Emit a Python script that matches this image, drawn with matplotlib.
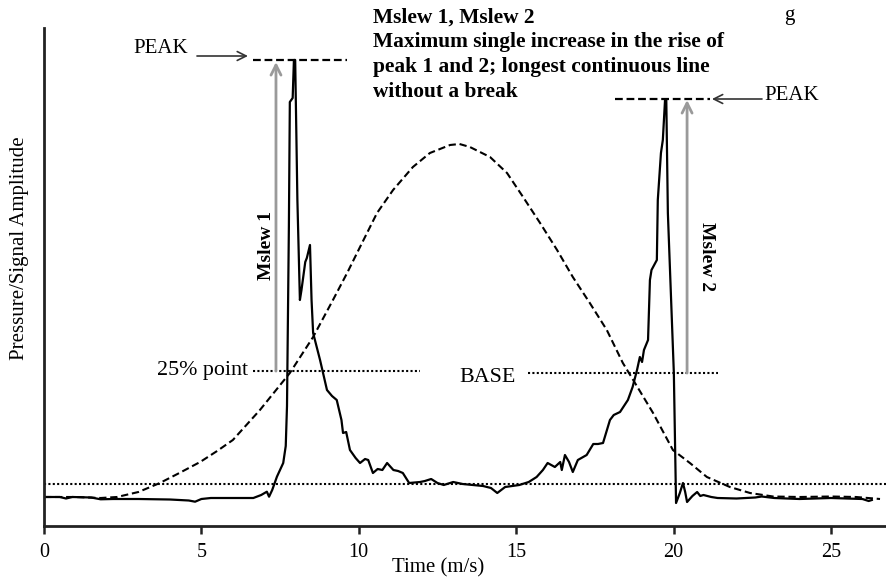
import matplotlib
matplotlib.use("Agg")
import matplotlib.pyplot as plt

plt.rcParams['font.family'] = ['Liberation Serif', 'DejaVu Serif']

# ---- data (time in m/s, amplitude in arbitrary units) ----
signal_t = [0.0, 0.5, 0.7, 0.9, 1.5, 1.8, 2.2, 3.0, 4.0, 4.6, 4.8, 5.0, 5.3, 6.0, 6.65,
            6.9, 7.08, 7.15, 7.25, 7.4, 7.6, 7.68, 7.72, 7.78, 7.81, 7.9, 7.94, 7.98,
            8.05, 8.13, 8.18, 8.3, 8.35, 8.45, 8.5, 8.55, 8.77, 8.99, 9.15, 9.3, 9.45,
            9.5, 9.6, 9.72, 9.9, 10.04, 10.2, 10.3, 10.45, 10.6, 10.75, 10.9, 11.1,
            11.25, 11.4, 11.6, 11.95, 12.1, 12.3, 12.5, 12.7, 13.0, 13.3, 13.95, 14.2,
            14.4, 14.65, 15.1, 15.4, 15.65, 15.85, 16.0, 16.23, 16.4, 16.45, 16.55,
            16.68, 16.8, 16.96, 17.24, 17.45, 17.6, 17.76, 17.98, 18.1, 18.3, 18.55,
            18.7, 18.84, 18.93, 19.0, 19.06, 19.19, 19.25, 19.3, 19.47, 19.5, 19.6,
            19.66, 19.73, 19.77, 19.82, 20.01, 20.08, 20.2, 20.3, 20.37, 20.43, 20.6,
            20.75, 20.85, 20.95, 21.2, 21.4, 22.0, 22.6, 22.8, 23.2, 24.0, 25.0, 25.5,
            26.0, 26.2, 26.3]
signal_a = [29, 29, 27.5, 29, 28.5, 26.7, 27, 27, 26.5, 25.5, 24.3, 27, 28, 28, 28,
            31, 34.3, 29.3, 36, 49.3, 63, 80, 120, 300, 424, 428, 466, 466,
            326, 226, 236, 264, 268, 281, 226, 193, 166, 136, 130, 126, 106,
            93, 94, 76, 68, 63, 67, 66, 53, 57, 56, 63, 56,
            55, 53, 43, 44, 45, 47, 43, 41, 44, 42, 40, 38,
            33, 39, 41, 44, 49, 56, 63, 59, 64, 56, 71,
            64, 54, 66, 71, 82, 82, 83, 106, 111, 114, 126,
            139, 156, 169, 164, 176, 186, 246, 256, 266, 326, 373,
            386, 426, 426, 313, 153, 23, 33, 43, 34, 24, 30,
            34, 30, 31, 29, 28, 27.5, 28.5, 29.5, 28, 27, 28, 27.5,
            27, 25, 26]

envelope_t = [0.0, 1.0, 1.8, 2.32, 3.0, 3.68, 4.3, 4.96, 5.5, 6.0, 6.86, 7.81, 8.55,
              9.18, 9.63, 10.04, 10.58, 11.09, 11.72, 12.26, 12.9, 13.2, 13.53, 14.17,
              14.71, 15.22, 15.76, 16.3, 16.8, 17.34, 17.88, 18.39, 18.68, 19.35,
              19.98, 20.52, 21.06, 21.79, 22.43, 23.16, 24.0, 25.0, 25.8, 26.56]
envelope_a = [29, 29, 28, 29, 34, 43, 53, 64, 75, 86, 116, 153, 189,
              226, 253, 279, 313, 336, 359, 373, 381, 382, 379, 369,
              353, 329, 303, 276, 249, 223, 196, 163, 148, 113,
              76, 63, 49, 39, 33, 29.5, 29, 29.5, 29, 27]

peak1_level = 466
peak2_level = 427
point25_level = 155
base_level = 153
lower_level = 42
peak1_span = [6.64, 9.62]
peak2_span = [18.14, 21.16]
point25_span = [6.64, 11.94]
base_span = [15.37, 21.4]
mslew1_t = 7.37
mslew2_t = 20.43
xticks = [0, 5, 10, 15, 20, 25]

title_lines = ["Mslew 1, Mslew 2",
               "Maximum single increase in the rise of",
               "peak 1 and 2; longest continuous line",
               "without a break"]

# ---- figure ----
W, H = 886, 582
fig = plt.figure(figsize=(W / 100, H / 100), dpi=100)
ax = fig.add_axes([44 / W, 1 - 526 / H, 1 - 44 / W, (526 - 28) / H])
ax.set_xlim(0, 26.75)
ax.set_ylim(0, 498)

ax.plot(signal_t, signal_a, color='black', lw=1.6, solid_joinstyle='round')
ax.plot(envelope_t, envelope_a, color='black', lw=1.5, linestyle=(0, (3.5, 1.8)))

dotted = (0, (1, 1.1))
ax.axhline(lower_level, color='black', lw=1.5, linestyle=dotted)
ax.plot(point25_span, [point25_level] * 2, color='black', lw=1.5, linestyle=dotted)
ax.plot(base_span, [base_level] * 2, color='black', lw=1.5, linestyle=dotted)

dashed = (0, (3.5, 1.7))
ax.plot(peak1_span, [peak1_level] * 2, color='black', lw=1.6, linestyle=dashed)
ax.plot(peak2_span, [peak2_level] * 2, color='black', lw=1.6, linestyle=dashed)

gray = '#9a9a9a'
ax.annotate('', xy=(mslew1_t, peak1_level - 2), xytext=(mslew1_t, point25_level),
            arrowprops=dict(arrowstyle='->', color=gray, lw=2, mutation_scale=18,
                            shrinkA=0, shrinkB=0))
ax.annotate('', xy=(mslew2_t, peak2_level - 1), xytext=(mslew2_t, base_level),
            arrowprops=dict(arrowstyle='->', color=gray, lw=2, mutation_scale=18,
                            shrinkA=0, shrinkB=0))

# PEAK labels with arrows
ax.annotate('', xy=(6.48, 470), xytext=(4.86, 470),
            arrowprops=dict(arrowstyle='->', color='#333333', lw=1.2, mutation_scale=16,
                            shrinkA=0, shrinkB=0))
ax.text(4.57, 478, 'PEAK', ha='right', va='center', fontsize=15)
ax.annotate('', xy=(21.22, peak2_level), xytext=(22.81, peak2_level),
            arrowprops=dict(arrowstyle='->', color='#333333', lw=1.2, mutation_scale=16,
                            shrinkA=0, shrinkB=0))
ax.text(22.9, 431, 'PEAK', ha='left', va='center', fontsize=15)

ax.text(6.47, point25_level + 1, '25% point', ha='right', va='center', fontsize=15.8)
ax.text(14.08, 148, 'BASE', ha='center', va='center', fontsize=15.8)

ax.text(7.08, 281, 'Mslew 1', rotation=90, ha='center', va='center',
        fontsize=14, fontweight='bold')
ax.text(21.06, 269, 'Mslew 2', rotation=270, ha='center', va='center',
        fontsize=14, fontweight='bold')

# title block
baselines = [22.5, 47.5, 72, 97]
for line, b in zip(title_lines, baselines):
    fig.text(373 / W, 1 - b / H, line, ha='left', va='baseline',
             fontsize=15.4, fontweight='bold')
fig.text(789 / W, 1 - 20 / H, 'g', ha='center', va='baseline', fontsize=15)

# axes styling
for s in ['top', 'right']:
    ax.spines[s].set_visible(False)
for s in ['left', 'bottom']:
    ax.spines[s].set_linewidth(2)
    ax.spines[s].set_color('#222222')
ax.set_yticks([])
ax.set_xticks(xticks)
ax.tick_params(axis='x', direction='out', length=6, width=1.8, color='#222222',
               labelsize=14.5, pad=6)
fig.text(438 / W, 1 - 568 / H, 'Time (m/s)', ha='center', va='center', fontsize=15)
fig.text(20 / W, 1 - 248 / H, 'Pressure/Signal Amplitude', rotation=90,
         ha='center', va='center', fontsize=15)

fig.savefig('out.png', dpi=100)
